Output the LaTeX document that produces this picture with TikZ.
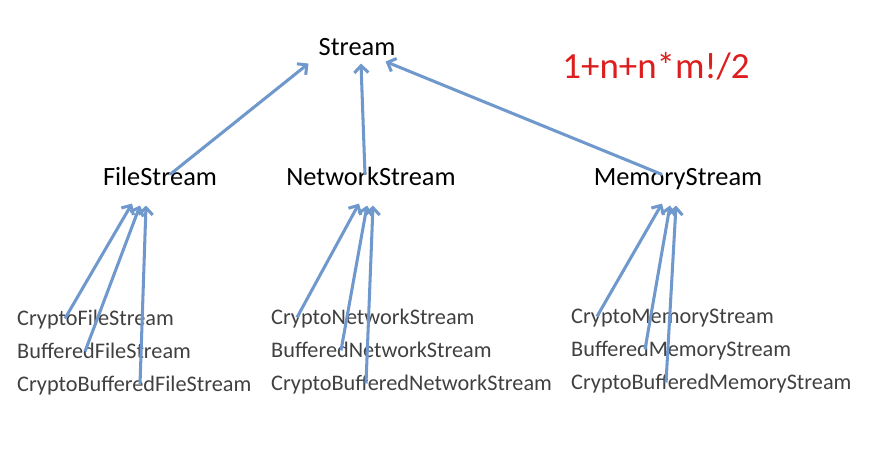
\documentclass[tikz,border=0pt]{standalone}
\usepackage{fontspec}
\setmainfont{Carlito}
\usetikzlibrary{positioning, arrows.meta, calc}
\tikzset{
  big/.style={font=\fontsize{22.5}{24}\selectfont, inner sep=0pt, text height=1.5ex, text depth=0.4ex},
  small/.style={font=\fontsize{19}{21}\selectfont, text=black!75, inner sep=0pt, anchor=west, text height=1.5ex, text depth=0.4ex},
  link/.style={color={rgb,255:red,111;green,152;blue,204}, line width=2.6pt, -{Straight Barb[length=6pt,width=12pt]}},
}
\begin{document}
\begin{tikzpicture}[x=0.03cm, y=-0.03cm]
  \useasboundingbox (0,0) rectangle (873,463);
  \node[big] (stream) at (357,52) {Stream};
  \node[font=\fontsize{31.5}{33}\selectfont, text={rgb,255:red,220;green,30;blue,30}] (formula) at (656,66) {1+n+n*m!/2};

  \node[big] (file) at (160,182) {FileStream};
  \node[big] (net) at (371,182) {NetworkStream};
  \node[big] (mem) at (678,182) {MemoryStream};

  \node[small] (cf) at (17,322) {CryptoFileStream};
  \node[small] (bf) at (17,355) {BufferedFileStream};
  \node[small] (cbf) at (17,388) {CryptoBufferedFileStream};
  \node[small] (cn) at (271,321) {CryptoNetworkStream};
  \node[small] (bn) at (271,354) {BufferedNetworkStream};
  \node[small] (cbn) at (271,387) {CryptoBufferedNetworkStream};
  \node[small] (cm) at (571,320) {CryptoMemoryStream};
  \node[small] (bm) at (571,353) {BufferedMemoryStream};
  \node[small] (cbm) at (571,386) {CryptoBufferedMemoryStream};

  % top level
  \draw[link] ($(file.north)+(10,-2)$) -- ($(stream.south west)+(-10,6)$);
  \draw[link] ($(net.north)+(-6,-2)$) -- ($(stream.south)+(4,6)$);
  \draw[link] ($(mem.north)+(-16,-2)$) -- ($(stream.south east)+(-10,4)$);

  % file
  \draw[link] ($(cf.north west)+(48,2)$) -- ($(file.south)+(-28,16)$);
  \draw[link] ($(bf.north west)+(68,2)$) -- ($(file.south)+(-20,18)$);
  \draw[link] ($(cbf.north west)+(123,2)$) -- ($(file.south)+(-14,18)$);
  % network
  \draw[link] ($(cn.north west)+(26,2)$) -- ($(net.south)+(-12,16)$);
  \draw[link] ($(bn.north west)+(70,2)$) -- ($(net.south)+(-4,18)$);
  \draw[link] ($(cbn.north west)+(95,2)$) -- ($(net.south)+(2,18)$);
  % memory
  \draw[link] ($(cm.north west)+(26,2)$) -- ($(mem.south)+(-16,16)$);
  \draw[link] ($(bm.north west)+(74,2)$) -- ($(mem.south)+(-8,18)$);
  \draw[link] ($(cbm.north west)+(95,2)$) -- ($(mem.south)+(-2,18)$);
\end{tikzpicture}
\end{document}
